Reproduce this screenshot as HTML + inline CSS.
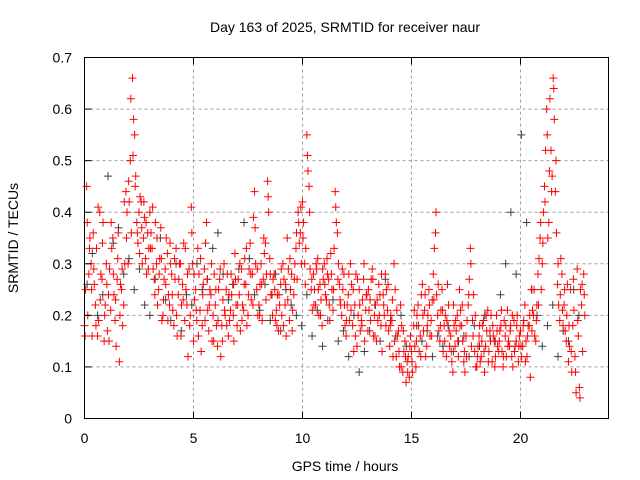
<!DOCTYPE html>
<html><head><meta charset="utf-8"><style>
body{margin:0;background:#fff}
svg{display:block;font-family:"Liberation Sans",sans-serif;font-size:14px}
</style></head><body>
<svg id="chart" width="640" height="480" viewBox="0 0 640 480">
<g id="grid"></g>
<g id="pts"></g>
<rect x="84.5" y="57.5" width="524" height="361" fill="none" stroke="#000" stroke-width="1"/>
<g id="ticks"></g>
<text x="345" y="32" text-anchor="middle">Day 163 of 2025, SRMTID for receiver naur</text>
<text x="345" y="471" text-anchor="middle">GPS time / hours</text>
<text x="18" y="238" text-anchor="middle" transform="rotate(-90 18 238)">SRMTID / TECUs</text>
</svg>
<script>
const xTicks=[0,5,10,15,20];
const yTicks=[0,0.1,0.2,0.3,0.4,0.5,0.6,0.7];
const yTickLabels=["0","0.1","0.2","0.3","0.4","0.5","0.6","0.7"];
const redA=[.18,.45,.28,.30,.36,.22,.16,.40,.27,.15,.30,.24,.21,.35,.19,.27,.11,.25,.22,.44,.30,.50,.66,.55,.38,.40,.42,.35,.31,.36,.40,.33,.27,.30,.25,.37,.20,.29,.32,.22,.28,.18,.33,.24,.30,.26,.19,.22,.29,.41,.15,.25,.33,.21,.18,.29,.38,.17,.24,.20,.22,.14,.27,.18,.30,.25,.16,.21,.26,.32,.18,.24,.29,.21,.26,.20,.34,.28,.44,.25,.22,.30,.27,.34,.46,.31,.24,.28,.21,.17,.26,.30,.22,.35,.19,.28,.24,.33,.40,.36,.42,.30,.55,.45,.25,.28,.22,.31,.26,.18,.30,.23,.27,.32,.21,.44,.36,.26,.20,.28,.16,.24,.30,.18,.22,.14,.25,.19,.27,.21,.17,.23,.29,.20,.15,.26,.18,.24,.28,.21,.14,.19,.30,.12,.17,.22,.09,.15,.11,.08,.13,.18,.10,.22,.16,.26,.21,.14,.25,.19,.28,.36,.20,.15,.25,.18,.12,.22,.16,.09,.14,.20,.25,.18,.11,.16,.22,.33,.19,.13,.10,.16,.12,.19,.14,.21,.17,.11,.15,.20,.13,.18,.10,.16,.21,.14,.12,.19,.15,.11,.17,.14,.22,.12,.18,.25,.20,.15,.28,.35,.30,.45,.60,.38,.52,.66,.44,.26,.19,.28,.22,.15,.11,.25,.18,.12,.29,.06,.22,.28];
const redB=[.25,.20,.35,.16,.26,.33,.19,.28,.38,.22,.17,.29,.33,.24,.14,.36,.26,.18,.30,.40,.42,.36,.58,.47,.34,.43,.30,.39,.28,.33,.36,.29,.38,.22,.31,.19,.27,.35,.24,.30,.21,.27,.16,.30,.22,.34,.25,.12,.20,.30,.23,.19,.28,.13,.26,.34,.21,.25,.15,.28,.18,.25,.12,.23,.20,.28,.19,.24,.15,.22,.27,.17,.22,.31,.18,.29,.23,.39,.30,.20,.26,.19,.32,.28,.40,.24,.27,.19,.24,.22,.20,.27,.16,.29,.25,.21,.30,.27,.34,.30,.38,.33,.48,.29,.21,.25,.29,.20,.23,.27,.24,.28,.19,.25,.33,.38,.30,.22,.25,.18,.22,.19,.26,.13,.28,.20,.17,.23,.15,.24,.21,.27,.16,.22,.19,.24,.13,.20,.25,.17,.20,.12,.25,.16,.10,.18,.13,.07,.12,.16,.09,.14,.20,.13,.24,.17,.12,.20,.16,.23,.33,.24,.17,.21,.13,.20,.26,.14,.11,.18,.17,.12,.21,.15,.09,.19,.27,.14,.24,.10,.14,.11,.18,.09,.17,.13,.20,.16,.12,.14,.17,.13,.19,.12,.15,.18,.10,.14,.20,.16,.12,.19,.15,.18,.08,.21,.16,.22,.31,.25,.40,.52,.35,.62,.47,.58,.36,.22,.31,.18,.17,.26,.14,.09,.21,.05,.16,.25,.13,.20];
const redC=[.16,.38,.33,.25,.29,.18,.41,.23,.34,.20,.26,.15,.38,.28,.23,.31,.20,.29,.42,.35,.46,.62,.51,.45,.36,.32,.37,.42,.38,.29,.33,.41,.24,.35,.28,.31,.23,.26,.19,.34,.24,.31,.20,.27,.16,.23,.33,.28,.18,.36,.28,.21,.16,.31,.24,.19,.27,.22,.30,.15,.25,.19,.29,.15,.21,.18,.24,.28,.20,.27,.22,.30,.19,.26,.33,.24,.28,.22,.37,.29,.20,.26,.35,.23,.43,.28,.20,.25,.18,.24,.29,.18,.26,.23,.31,.17,.27,.36,.38,.41,.35,.26,.51,.40,.27,.22,.30,.25,.20,.29,.26,.31,.22,.28,.25,.41,.27,.23,.29,.22,.19,.28,.21,.25,.16,.27,.22,.18,.30,.24,.25,.19,.27,.16,.23,.20,.28,.22,.18,.26,.18,.23,.15,.21,.13,.10,.17,.12,.09,.14,.11,.21,.15,.18,.12,.20,.24,.18,.22,.16,.23,.40,.26,.18,.21,.15,.19,.17,.13,.22,.19,.15,.18,.22,.13,.12,.24,.30,.16,.20,.12,.18,.15,.13,.20,.11,.15,.18,.10,.17,.15,.21,.12,.18,.14,.17,.20,.13,.18,.14,.14,.18,.11,.16,.20,.17,.25,.19,.22,.38,.34,.42,.55,.48,.44,.64,.50,.30,.24,.21,.25,.20,.18,.13,.27,.09,.19,.04,.26,.24];
const grey=[.26,.32,.20,.24,.47,.34,.37,.28,.31,.25,.29,.22,.20,.27,.35,.23,.19,.30,.17,.24,.22,.30,.25,.27,.33,.36,.28,.23,.26,.29,.38,.31,.24,.21,.26,.19,.28,.17,.25,.22,.20,.18,.24,.16,.21,.14,.19,.23,.15,.17,.12,.20,.09,.13,.17,.22,.15,.27,.19,.16,.20,.14,.13,.18,.15,.17,.12,.16,.14,.18,.13,.15,.16,.12,.18,.14,.20,.16,.15,.24,.30,.40,.28,.55,.38,.25,.20,.14,.18,.22,.12,.17,.15,.25,.20];
const X0=84.5,XS=21.8,Y0=418.5,YS=515.7;
const xs=h=>X0+h*XS, ys=v=>Y0-v*YS;
const NS="http://www.w3.org/2000/svg";
const grid=document.getElementById('grid'),ticks=document.getElementById('ticks'),pts=document.getElementById('pts');
function mk(tag,attrs,parent){const e=document.createElementNS(NS,tag);for(const k in attrs)e.setAttribute(k,attrs[k]);parent.appendChild(e);return e;}
yTicks.forEach((v,i)=>{
  const y=ys(v);
  if(i>0&&i<yTicks.length-1){const g=mk('line',{x1:X0,x2:608.5,y1:y,y2:y,stroke:'#a0a0a0','stroke-dasharray':'3,3'},grid);
  
  }
  const t=mk('line',{x1:X0,x2:X0+7,y1:y,y2:y,stroke:'#000'},ticks);
  
  
  const l=mk('text',{x:72,y:y+5,'text-anchor':'end'},ticks);l.textContent=yTickLabels[i];
  
  
});
xTicks.forEach(h=>{
  const x=xs(h);
  if(h>0){const g=mk('line',{x1:x,x2:x,y1:57.5,y2:418.5,stroke:'#a0a0a0','stroke-dasharray':'3,3'},grid);
  
  }
  const t=mk('line',{x1:x,x2:x,y1:418.5,y2:411.5,stroke:'#000'},ticks);
  
  
  const t2=mk('line',{x1:x,x2:x,y1:57.5,y2:64.5,stroke:'#000'},ticks);
  
  
  const l=mk('text',{x:x,y:443,'text-anchor':'middle'},ticks);l.textContent=String(h);
  
  
});
function plus(h,v,col){
  const x=xs(h),y=ys(v);
  const p=mk('path',{d:`M${x-4},${y}H${x+4}M${x},${y-4}V${y+4}`,stroke:col,'stroke-width':1,fill:'none'},pts);
  
  
}
grey.forEach((v,i)=>plus(0.12+i*0.24,v,'#404040'));
redA.forEach((v,i)=>plus(i*0.1,v,'#ff0000'));
redB.forEach((v,i)=>plus(0.05+i*0.1,v,'#ff0000'));
redC.forEach((v,i)=>plus(0.025+i*0.1,v,'#ff0000'));
</script>
</body></html>
